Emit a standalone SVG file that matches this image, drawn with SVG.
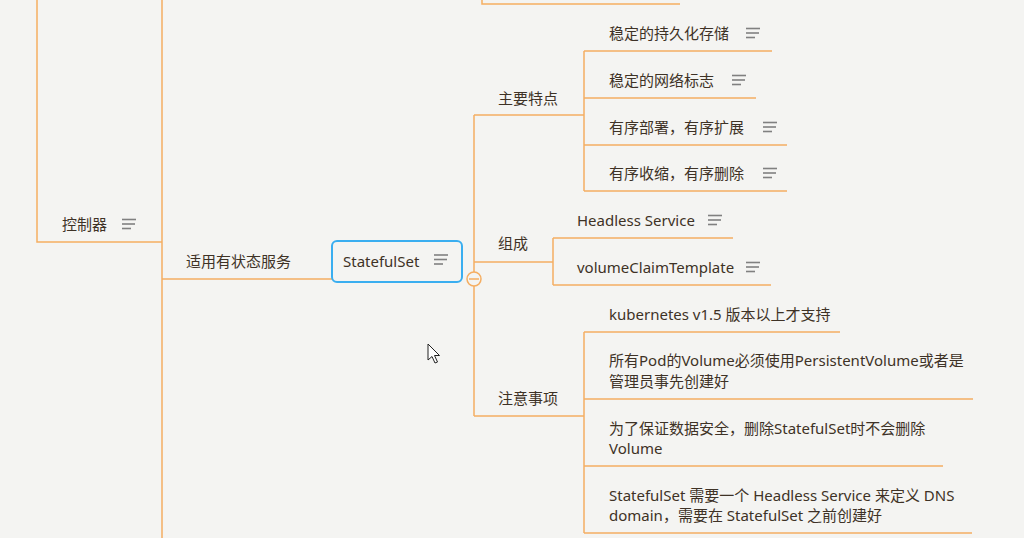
<svg xmlns="http://www.w3.org/2000/svg" width="1024" height="538" viewBox="0 0 1024 538">
<defs>
<style>
.ln{fill:none;stroke:#f5ae62;stroke-width:1.5}
.t{font-family:"Noto Sans","Noto Sans CJK SC",sans-serif;font-size:15px;fill:#3e3226}
.ic{stroke:#808080;stroke-width:1.6}
</style>
<g id="note-icon">
<line class="ic" x1="0" y1="-4.5" x2="14" y2="-4.5"/>
<line class="ic" x1="0" y1="0" x2="13" y2="0"/>
<line class="ic" x1="0" y1="4.5" x2="9" y2="4.5"/>
</g>
</defs>
<rect width="1024" height="538" fill="#f4f4f2"/>
<g id="connectors">
<polyline class="ln" points="482,0 482,4 680,4"/>
<polyline class="ln" points="37,0 37,242 162,242"/>
<line class="ln" x1="162" y1="0" x2="162" y2="538"/>
<line class="ln" x1="162" y1="279" x2="332" y2="279"/>
<line class="ln" x1="474" y1="115" x2="474" y2="416"/>
<polyline class="ln" points="474,115 584,115"/>
<line class="ln" x1="584" y1="51" x2="584" y2="191"/>
<line class="ln" x1="584" y1="51" x2="772" y2="51"/>
<line class="ln" x1="584" y1="98" x2="756" y2="98"/>
<line class="ln" x1="584" y1="145" x2="787" y2="145"/>
<line class="ln" x1="584" y1="191" x2="787" y2="191"/>
<line class="ln" x1="474" y1="262" x2="553" y2="262"/>
<line class="ln" x1="553" y1="238" x2="553" y2="285"/>
<line class="ln" x1="553" y1="238" x2="733" y2="238"/>
<line class="ln" x1="553" y1="285" x2="771" y2="285"/>
<line class="ln" x1="474" y1="416" x2="584" y2="416"/>
<line class="ln" x1="584" y1="332" x2="584" y2="533"/>
<line class="ln" x1="584" y1="332" x2="840" y2="332"/>
<line class="ln" x1="584" y1="399" x2="973" y2="399"/>
<line class="ln" x1="584" y1="466" x2="943" y2="466"/>
<line class="ln" x1="584" y1="533" x2="972" y2="533"/>
</g>
<g id="node-controller">
<text class="t" x="62" y="230">控制器</text>
<use href="#note-icon" x="122" y="224"/>
</g>
<g id="node-stateful-service">
<text class="t" x="186" y="267">适用有状态服务</text>
</g>
<g id="node-statefulset">
<rect x="332" y="241" width="130" height="41" rx="5" fill="#f4f4f2" stroke="#3aaef0" stroke-width="2"/>
<text class="t" x="343" y="267">StatefulSet</text>
<use href="#note-icon" x="434" y="259.5"/>
<circle cx="474" cy="279" r="7" fill="#f4f4f2" stroke="#f5ae62" stroke-width="1.5"/>
<line x1="469" y1="279" x2="479" y2="279" stroke="#f5ae62" stroke-width="1.5"/>
</g>
<g id="node-features">
<text class="t" x="498" y="104">主要特点</text>
</g>
<g id="node-f1">
<text class="t" x="609" y="39">稳定的持久化存储</text>
<use href="#note-icon" x="746" y="33"/>
</g>
<g id="node-f2">
<text class="t" x="609" y="86">稳定的网络标志</text>
<use href="#note-icon" x="732" y="80"/>
</g>
<g id="node-f3">
<text class="t" x="609" y="133">有序部署，有序扩展</text>
<use href="#note-icon" x="763" y="127"/>
</g>
<g id="node-f4">
<text class="t" x="609" y="179">有序收缩，有序删除</text>
<use href="#note-icon" x="763" y="173"/>
</g>
<g id="node-compose">
<text class="t" x="498" y="249">组成</text>
</g>
<g id="node-c1">
<text class="t" x="577" y="226">Headless Service</text>
<use href="#note-icon" x="708" y="220"/>
</g>
<g id="node-c2">
<text class="t" x="577" y="273">volumeClaimTemplate</text>
<use href="#note-icon" x="746" y="267"/>
</g>
<g id="node-notes">
<text class="t" x="498" y="404">注意事项</text>
</g>
<g id="node-n1">
<text class="t" x="609" y="320">kubernetes v1.5 版本以上才支持</text>
</g>
<g id="node-n2">
<text class="t" x="609" y="366">所有Pod的Volume必须使用PersistentVolume或者是</text>
<text class="t" x="609" y="387">管理员事先创建好</text>
</g>
<g id="node-n3">
<text class="t" x="609" y="434">为了保证数据安全，删除StatefulSet时不会删除</text>
<text class="t" x="609" y="454">Volume</text>
</g>
<g id="node-n4">
<text class="t" x="609" y="501">StatefulSet 需要一个 Headless Service 来定义 DNS</text>
<text class="t" x="609" y="521">domain，需要在 StatefulSet 之前创建好</text>
</g>
<path d="M428,344 L428,360 L432,356.5 L435,363 L437.5,362 L434.5,355.5 L439.5,355.5 Z" fill="#ffffff" stroke="#222" stroke-width="1"/>
</svg>
